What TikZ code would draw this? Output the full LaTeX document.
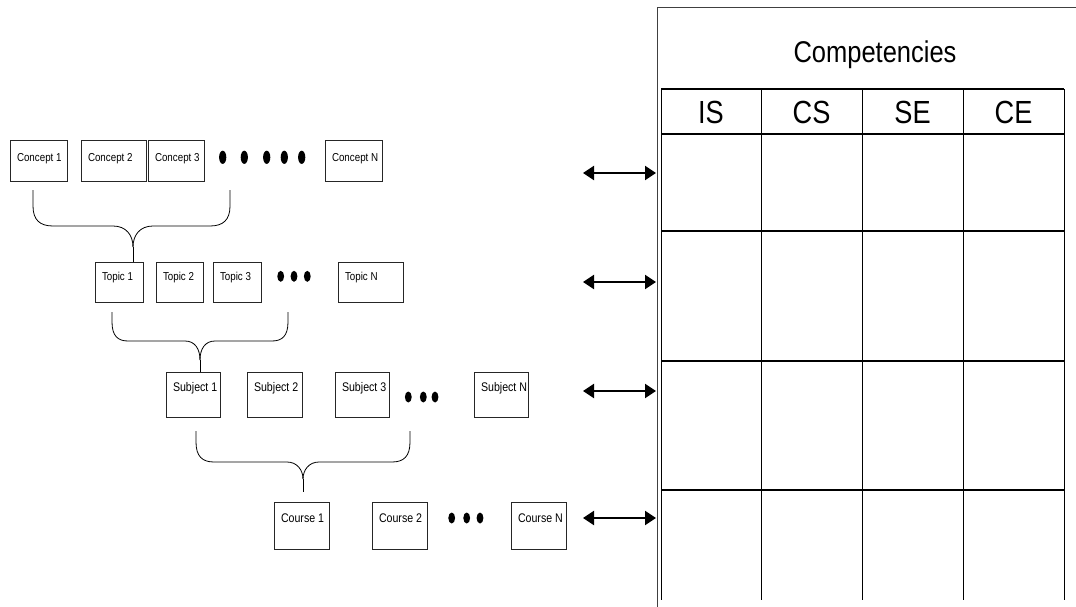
\documentclass[tikz,border=0pt]{standalone}
\usepackage{fontspec}
\setmainfont{Liberation Sans}[FakeStretch=0.85]
\usetikzlibrary{arrows.meta}
\newcommand{\lefttxt}[2]{\makebox[#1][l]{#2}}
\begin{document}
\begin{tikzpicture}[x=1pt,y=-1pt,
  box/.style={draw=black!85, line width=0.7pt, anchor=north west, inner xsep=7pt, inner ysep=0pt, outer sep=0pt},
  cbox/.style={box, font=\fontsize{11.5}{12}\selectfont, text height=21pt, text depth=20pt},
  tbox/.style={box, font=\fontsize{11.5}{12}\selectfont, text height=18pt, text depth=22pt},
  sbox/.style={box, font=\fontsize{12.5}{13}\selectfont, text height=19pt, text depth=26pt},
  kbox/.style={box, font=\fontsize{12.5}{13}\selectfont, text height=20.5pt, text depth=26.5pt},
  brace/.style={draw=black, line width=0.8pt},
  arr/.style={>={Triangle[length=11pt,width=14pt]}, <->, line width=2pt},
  frame/.style={draw=black!75, line width=0.9pt},
  tblv/.style={draw=black, line width=0.8pt},
  tblh/.style={draw=black, line width=1.3pt},
  hdr/.style={anchor=base, inner sep=0pt, font=\fontsize{32}{34}\selectfont},
  ttl/.style={anchor=base, inner sep=0pt, font=\fontsize{30}{32}\selectfont},
  dot/.style={fill=black}
]
\useasboundingbox (0,0) rectangle (1076,607);

% Concepts
\node[cbox] (c1) at (10,140)  {\lefttxt{43pt}{Concept 1}};
\node[cbox] (c2) at (81,140)  {\lefttxt{51pt}{Concept 2}};
\node[cbox] (c3) at (148,140) {\lefttxt{42pt}{Concept 3}};
\node[cbox] (cN) at (325,140) {\lefttxt{43pt}{Concept N}};
\foreach \x in {222.7,244.3,266.7,284.3,301.7}
  \fill[dot] (\x,157.3) ellipse [x radius=3.6pt, y radius=6.6pt];

% Topics
\node[tbox] (t1) at (95,262)  {\lefttxt{34pt}{Topic 1}};
\node[tbox] (t2) at (156,262) {\lefttxt{33pt}{Topic 2}};
\node[tbox] (t3) at (213,262) {\lefttxt{34pt}{Topic 3}};
\node[tbox] (tN) at (338,262) {\lefttxt{51pt}{Topic N}};
\foreach \x in {280.7,294,307.3}
  \fill[dot] (\x,276.3) ellipse [x radius=3.4pt, y radius=5.5pt];

% Subjects
\node[sbox] (s1) at (166,372) {\lefttxt{40pt}{Subject 1}};
\node[sbox] (s2) at (247,372) {\lefttxt{41pt}{Subject 2}};
\node[sbox] (s3) at (335,372) {\lefttxt{40pt}{Subject 3}};
\node[sbox] (sN) at (474,372) {\lefttxt{40pt}{Subject N}};
\foreach \x in {408.3,423.3,435}
  \fill[dot] (\x,397) ellipse [x radius=3.4pt, y radius=5.5pt];

% Courses
\node[kbox] (k1) at (274,502) {\lefttxt{41pt}{Course 1}};
\node[kbox] (k2) at (372,502) {\lefttxt{41pt}{Course 2}};
\node[kbox] (kN) at (511,502) {\lefttxt{41pt}{Course N}};
\foreach \x in {451.7,466.7,480}
  \fill[dot] (\x,518) ellipse [x radius=3.4pt, y radius=5.5pt];

% Brace under concepts
\coordinate (tipA) at (133,247);
\path[brace] (33,190) -- (33,206) .. controls (33,220) and (40,226) .. (53,226) -- (113,226) .. controls (126,226) and (133,235) .. (tipA);
\path[brace] (230,190) -- (230,206) .. controls (230,220) and (223,226) .. (210,226) -- (153,226) .. controls (140,226) and (133,235) .. (tipA);
\path[brace] (tipA) -- (tipA |- t1.north);

% Brace under topics
\coordinate (tipB) at (200,360);
\path[brace] (112,312) -- (112,322) .. controls (112,336) and (118,341) .. (128,341) -- (185,341) .. controls (195,341) and (200,349) .. (tipB);
\path[brace] (288,312) -- (288,322) .. controls (288,336) and (282,341) .. (272,341) -- (215,341) .. controls (205,341) and (200,349) .. (tipB);
\path[brace] (tipB) -- (tipB |- s1.north);

% Brace under subjects
\coordinate (tipC) at (303,479);
\coordinate (endC) at (303,492);
\path[brace] (196,431) -- (196,442) .. controls (196,456) and (202,462) .. (214,462) -- (287,462) .. controls (297,462) and (303,470) .. (tipC);
\path[brace] (410,431) -- (410,442) .. controls (410,456) and (404,462) .. (392,462) -- (319,462) .. controls (309,462) and (303,470) .. (tipC);
\path[brace] (tipC) -- (endC);

% Frame
\coordinate (fr) at (657,7);
\path[frame] (657,607) -- (fr) -- (1076,7);

% Table
\foreach \x in {661,761,862,963,1064}
  \path[tblv] (\x,89) -- (\x,600);
\foreach \y in {89,134,231,361,490}
  \path[tblh] (661,\y) -- (1064,\y);

\node[ttl] (title) at (875,63) {Competencies};
\node[hdr] (h1) at (711,124) {IS};
\node[hdr] (h2) at (811.5,124) {CS};
\node[hdr] (h3) at (912.5,124) {SE};
\node[hdr] (h4) at (1013.5,124) {CE};

% Arrows
\coordinate (a1) at (583,173);
\coordinate (a2) at (583,282);
\coordinate (a3) at (583,391);
\coordinate (a4) at (583,518);
\foreach \a in {a1,a2,a3,a4}
  \draw[arr] (\a) -- ([xshift=-1pt]\a -| fr);
\end{tikzpicture}
\end{document}
